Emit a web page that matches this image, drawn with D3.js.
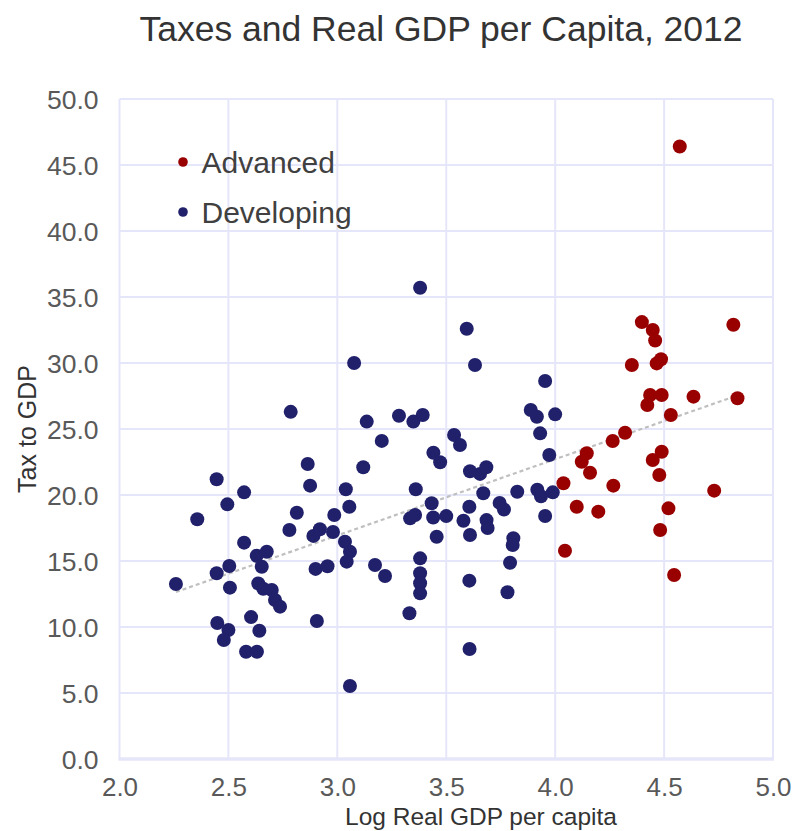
<!DOCTYPE html>
<html>
<head>
<meta charset="utf-8">
<script src="https://cdn.jsdelivr.net/npm/d3@7"></script>
<style>
  html, body { margin: 0; padding: 0; background: #ffffff; }
  svg { display: block; font-family: "Liberation Sans", Arial, sans-serif; }
</style>
</head>
<body>
<svg id="chart" width="794" height="831"></svg>
<script>
// Log real GDP per capita vs tax-to-GDP ratio (%), 2012
const advancedX = [4.572, 4.398, 4.448, 4.459, 4.818, 4.352, 4.466, 4.486, 4.436, 4.489,
  4.423, 4.635, 4.837, 4.531, 4.321, 4.264, 4.145, 4.122, 4.160, 4.489,
  4.448, 4.478, 4.038, 4.267, 4.730, 4.099, 4.198, 4.520, 4.482, 4.045, 4.546];
const advancedY = [46.4, 33.1, 32.5, 31.7, 32.9, 29.85, 29.97, 30.28, 27.58, 27.58,
  26.82, 27.45, 27.33, 26.06, 24.72, 24.09, 23.16, 22.52, 21.69, 23.28,
  22.65, 21.52, 20.89, 20.71, 20.33, 19.11, 18.74, 18.99, 17.35, 15.78, 13.94];

const developingX = [3.380, 3.077, 2.786, 3.135, 3.283, 3.349, 3.392, 3.204, 3.441, 3.472,
  2.864, 3.119, 3.536, 3.594, 3.632, 3.954, 3.888, 3.916, 4.000, 3.931,
  3.563, 3.973, 3.609, 3.655, 3.684, 3.670, 3.826, 3.918, 3.935, 3.989,
  3.954, 3.745, 3.765, 3.606, 3.579, 3.685, 3.690, 3.609, 3.456, 3.440,
  3.500, 3.433, 3.808, 3.805, 3.793, 3.606, 3.781, 2.446, 2.572, 2.875,
  3.039, 3.360, 2.495, 2.814, 2.986, 3.055, 2.357, 2.780, 2.890, 2.920,
  2.980, 3.035, 3.058, 3.043, 3.334, 3.357, 3.380, 3.380, 3.380, 3.380,
  3.331, 2.572, 2.630, 2.676, 2.653, 2.504, 2.446, 2.259, 2.507, 2.637,
  2.660, 2.699, 2.714, 2.737, 2.900, 2.955, 3.173, 3.219, 2.449, 2.604,
  2.906, 2.500, 2.479, 2.642, 2.581, 2.631, 3.607, 3.058];
const developingY = [35.7, 30.0, 26.3, 25.56, 26.0, 25.56, 26.06, 24.1, 23.2, 22.48,
  22.35, 22.1, 24.55, 32.6, 29.85, 28.64, 26.44, 25.93, 26.11, 24.67,
  23.79, 23.03, 21.8, 21.6, 22.1, 20.13, 20.25, 20.4, 19.9, 20.2,
  18.41, 19.4, 18.9, 19.11, 18.05, 18.1, 17.5, 16.97, 16.84, 18.3,
  18.4, 19.37, 16.72, 16.21, 14.87, 13.51, 12.63, 21.19, 20.2, 20.71,
  20.43, 20.43, 19.29, 18.66, 18.48, 19.11, 18.16, 17.35, 16.9, 17.4,
  17.2, 16.46, 15.7, 14.95, 18.23, 18.48, 15.2, 14.07, 13.31, 12.55,
  11.04, 16.39, 15.4, 15.7, 14.57, 14.62, 14.07, 13.26, 12.98, 13.3,
  12.9, 12.8, 12.05, 11.54, 14.4, 14.6, 14.7, 13.86, 10.3, 10.75,
  10.45, 9.77, 9.02, 9.72, 8.13, 8.13, 8.33, 5.53];

const xTicks = [2.0, 2.5, 3.0, 3.5, 4.0, 4.5, 5.0];
const yTicks = [0, 5, 10, 15, 20, 25, 30, 35, 40, 45, 50];
const seriesNames = ["Advanced", "Developing"];
const seriesColors = ["#990000", "#20206b"];

const svg = d3.select("#chart");
const x = d3.scaleLinear().domain([2, 5]).range([119.5, 773]);
const y = d3.scaleLinear().domain([0, 50]).range([759, 99]);

// grid
const grid = svg.append("g").attr("stroke", "#e6e6fa").attr("stroke-width", 2);
grid.selectAll("line.v").data(xTicks).join("line")
  .attr("x1", d => x(d)).attr("x2", d => x(d))
  .attr("y1", y(50)).attr("y2", y(0));
grid.selectAll("line.h").data(yTicks).join("line")
  .attr("x1", x(2)).attr("x2", x(5))
  .attr("y1", d => y(d)).attr("y2", d => y(d));
svg.append("line").attr("stroke", "#e6e6fa").attr("stroke-width", 3.5)
  .attr("x1", x(2) - 1).attr("x2", x(5) + 1).attr("y1", y(0)).attr("y2", y(0));

// axes (labels only)
const xAxis = svg.append("g").attr("transform", `translate(0,${y(0)})`)
  .call(d3.axisBottom(x).tickValues(xTicks).tickFormat(d3.format(".1f")).tickSize(0).tickPadding(0));
xAxis.select(".domain").remove();
xAxis.selectAll("text").attr("dy", null).attr("y", 37)
  .attr("font-size", 26).attr("fill", "#595959").attr("font-family", "Liberation Sans, Arial, sans-serif");

const yAxis = svg.append("g").attr("transform", `translate(${x(2)},0)`)
  .call(d3.axisLeft(y).tickValues(yTicks).tickFormat(d3.format(".1f")).tickSize(0).tickPadding(21));
yAxis.select(".domain").remove();
yAxis.selectAll("text").attr("dy", "0.35em")
  .attr("font-size", 26.5).attr("fill", "#595959").attr("font-family", "Liberation Sans, Arial, sans-serif");

// trendline over all observations (least squares)
const allX = advancedX.concat(developingX);
const allY = advancedY.concat(developingY);
const mx = d3.mean(allX), my = d3.mean(allY);
const slope = d3.sum(allX, (v, i) => (v - mx) * (allY[i] - my)) / d3.sum(allX, v => (v - mx) * (v - mx));
const intercept = my - slope * mx;
const [xmin, xmax] = d3.extent(allX);
svg.append("line")
  .attr("x1", x(xmin)).attr("y1", y(intercept + slope * xmin))
  .attr("x2", x(xmax)).attr("y2", y(intercept + slope * xmax))
  .attr("stroke", "#bfbfbf").attr("stroke-width", 2.2).attr("stroke-dasharray", "4,3");

// points
const series = [
  { name: seriesNames[0], color: seriesColors[0], xs: advancedX, ys: advancedY },
  { name: seriesNames[1], color: seriesColors[1], xs: developingX, ys: developingY }
];
series.slice().reverse().forEach(s => {
  svg.append("g").selectAll("circle").data(s.xs.map((v, i) => [v, s.ys[i]])).join("circle")
    .attr("cx", d => x(d[0])).attr("cy", d => y(d[1])).attr("r", 7)
    .attr("fill", s.color);
});

// legend
const legend = svg.append("g").attr("transform", "translate(183,162)");
series.forEach((s, i) => {
  const g = legend.append("g").attr("transform", `translate(0,${i * 50})`);
  g.append("circle").attr("r", 4.8).attr("fill", s.color);
  g.append("text").attr("x", 18.5).attr("y", 11).attr("font-size", 30)
    .attr("fill", "#404040").text(s.name);
});

// titles
svg.append("text").attr("x", 441).attr("y", 41).attr("text-anchor", "middle")
  .attr("font-size", 35.5).attr("fill", "#333333").text("Taxes and Real GDP per Capita, 2012");
svg.append("text").attr("x", 481).attr("y", 825).attr("text-anchor", "middle")
  .attr("font-size", 24.5).attr("fill", "#333333").text("Log Real GDP per capita");
svg.append("text").attr("transform", "translate(36,429) rotate(-90)").attr("text-anchor", "middle")
  .attr("font-size", 25).attr("fill", "#333333").text("Tax to GDP");
</script>
</body>
</html>
